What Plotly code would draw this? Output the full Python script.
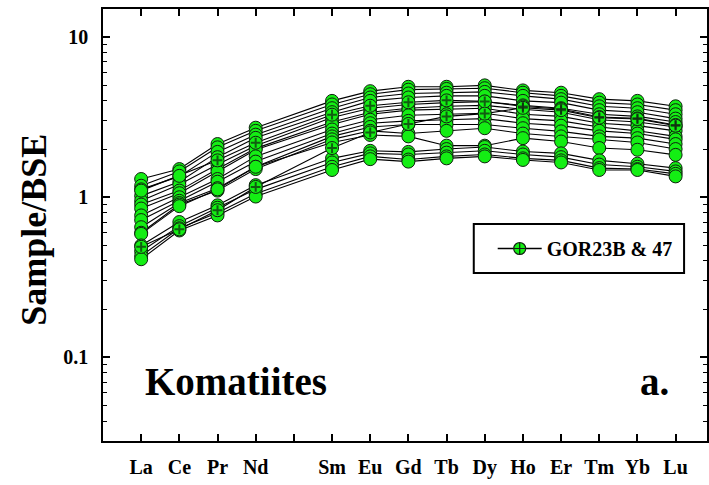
import plotly.graph_objects as go
import math

# ---------------- data ----------------
tick_labels = ["La", "Ce", "Pr", "Nd", "", "Sm", "Eu", "Gd", "Tb", "Dy", "Ho", "Er", "Tm", "Yb", "Lu"]
elements = ["La", "Ce", "Pr", "Nd", "Sm", "Eu", "Gd", "Tb", "Dy", "Ho", "Er", "Tm", "Yb", "Lu"]

# Komatiite samples normalised to BSE (La ... Lu)
sample_01 = [1.30, 1.50, 2.15, 2.72, 4.00, 4.60, 4.90, 4.90, 5.00, 4.65, 4.50, 4.10, 4.00, 3.70]
sample_02 = [1.18, 1.45, 2.05, 2.60, 3.80, 4.40, 4.70, 4.75, 4.80, 4.50, 4.30, 3.90, 3.80, 3.50]
sample_03 = [1.12, 1.35, 1.92, 2.46, 3.60, 4.20, 4.45, 4.50, 4.55, 4.30, 4.10, 3.70, 3.60, 3.30]
sample_04 = [1.02, 1.25, 1.78, 2.35, 3.40, 4.00, 4.20, 4.30, 4.30, 4.00, 3.90, 3.50, 3.40, 3.10]
sample_05 = [0.95, 1.20, 1.60, 2.10, 3.15, 3.60, 3.80, 3.90, 3.95, 3.75, 3.60, 3.30, 3.20, 2.95]
sample_06 = [0.90, 1.10, 1.50, 2.02, 2.95, 3.40, 3.60, 3.70, 3.75, 3.55, 3.40, 3.05, 2.95, 2.75]
sample_07 = [0.85, 1.06, 1.45, 1.98, 2.85, 3.30, 3.50, 3.55, 3.60, 3.30, 3.20, 2.90, 2.80, 2.60]
sample_08 = [0.77, 1.00, 1.30, 1.80, 2.65, 3.05, 3.25, 3.30, 3.35, 3.10, 3.00, 2.75, 2.60, 2.40]
sample_09 = [0.72, 0.95, 1.25, 1.67, 2.50, 2.90, 3.00, 3.05, 3.10, 2.90, 2.80, 2.60, 2.50, 2.30]
sample_10 = [0.65, 0.92, 1.14, 1.55, 2.40, 2.75, 2.85, 2.85, 2.85, 2.70, 2.58, 2.40, 2.34, 2.15]
sample_11 = [0.60, 0.90, 1.10, 1.50, 2.30, 2.60, 2.50, 2.60, 2.70, 2.50, 2.40, 2.30, 2.20, 2.00]
sample_12 = [0.59, 0.88, 1.12, 1.55, 2.20, 2.45, 2.40, 2.10, 2.10, 2.34, 2.23, 2.03, 1.98, 1.84]
sample_13 = [0.50, 0.70, 0.89, 1.19, 1.75, 1.95, 1.92, 2.00, 2.06, 1.93, 1.88, 1.70, 1.62, 1.52]
sample_14 = [0.46, 0.66, 0.86, 1.12, 1.65, 1.88, 1.85, 1.90, 1.95, 1.85, 1.78, 1.60, 1.55, 1.45]
sample_15 = [0.43, 0.64, 0.80, 1.05, 1.55, 1.80, 1.72, 1.80, 1.85, 1.75, 1.70, 1.52, 1.50, 1.40]
sample_16 = [0.41, 0.62, 0.77, 1.01, 1.48, 1.73, 1.67, 1.75, 1.80, 1.71, 1.65, 1.48, 1.48, 1.35]

# GOR23B & 47
gor23b = [1.10, 1.36, 1.70, 2.19, 3.28, 3.73, 3.92, 4.03, 3.97, 3.69, 3.56, 3.17, 3.11, 2.83]
gor47 = [0.49, 0.63, 0.83, 1.16, 2.03, 2.54, 2.87, 3.20, 3.33, 3.62, 3.50, 3.14, 3.08, 2.80]
# whether the cross symbol of a GOR point is visible (hidden where covered by other samples)
gor23b_cross_visible = [0, 0, 1, 1, 1, 1, 1, 1, 1, 1, 1, 1, 1, 1]
gor47_cross_visible = [1, 1, 1, 1, 1, 1, 1, 1, 1, 1, 1, 1, 1, 1]

komatiite_samples = [sample_01, sample_02, sample_03, sample_04, sample_05, sample_06,
                     sample_07, sample_08, sample_09, sample_10, sample_11, sample_12,
                     sample_13, sample_14, sample_15, sample_16]
gor_samples = [gor23b, gor47]
gor_cross_flags = [gor23b_cross_visible, gor47_cross_visible]

y_tickvals = [0.1, 1, 10]
y_ticktext = ["0.1", "1", "10"]
legend_name = "GOR23B & 47"

# ---------------- styling ----------------
GREEN = "#14ee14"
EDGE = "#102010"
FONT = "Liberation Serif, Times New Roman, serif"

x_pos = [tick_labels.index(e) + 1 for e in elements]
x_ticks = list(range(1, len(tick_labels) + 1))

fig = go.Figure()

all_samples = komatiite_samples + gor_samples
# lines first
for s in all_samples:
    fig.add_trace(go.Scatter(x=x_pos, y=s, mode="lines",
                             line=dict(color="black", width=1.1),
                             showlegend=False, hoverinfo="skip"))
# markers on top
for s in all_samples:
    fig.add_trace(go.Scatter(x=x_pos, y=s, mode="markers",
                             marker=dict(symbol="circle", size=13, color=GREEN,
                                         line=dict(color=EDGE, width=1)),
                             showlegend=False))
# crosses for GOR samples
for s, flags in zip(gor_samples, gor_cross_flags):
    fig.add_trace(go.Scatter(x=x_pos, y=s, mode="markers",
                             marker=dict(symbol="cross-thin", size=[7 * f for f in flags],
                                         color=EDGE, line=dict(color=EDGE, width=2)),
                             showlegend=False, hoverinfo="skip"))
# legend entry
fig.add_trace(go.Scatter(x=[None], y=[None], mode="lines+markers", name=legend_name,
                         line=dict(color="black", width=1.5),
                         marker=dict(symbol="circle-cross", size=12, color=GREEN,
                                     line=dict(color=EDGE, width=1.2))))

# minor ticks
minor_vals = []
for dec in [0.01, 0.1, 1]:
    for k in range(2, 10):
        v = k * dec
        if 0.03 <= v <= 15:
            minor_vals.append(round(v, 4))

L, R, T, B = 103, 0, 9, 44
W, H = 709, 485
plot_w = W - L - R
plot_h = H - T - B
unit = 38.3
x_max = plot_w / unit


def px_x(p):
    return (p - L) / plot_w


def px_y(p):
    return (H - B - p) / plot_h


fig.update_layout(
    width=W, height=H,
    margin=dict(l=L, r=R, t=T, b=B, pad=0),
    paper_bgcolor="white", plot_bgcolor="white",
    font=dict(family=FONT, color="black"),
    xaxis=dict(range=[0, x_max], tickmode="array", tickvals=x_ticks, ticktext=tick_labels,
               ticks="inside", ticklen=7, tickwidth=1.5, tickcolor="black",
               showline=True, linecolor="black", linewidth=1.5, mirror="ticks",
               showgrid=False, zeroline=False,
               tickfont=dict(family=FONT, size=20, weight="bold", color="black"),
               ticklabelstandoff=7),
    yaxis=dict(type="log", range=[math.log10(0.03), math.log10(15)],
               tickmode="array", tickvals=y_tickvals, ticktext=y_ticktext,
               ticks="inside", ticklen=7, tickwidth=1.5, tickcolor="black",
               minor=dict(tickmode="array", tickvals=minor_vals, ticks="inside",
                          ticklen=4, tickwidth=1.2, tickcolor="black", showgrid=False),
               showline=True, linecolor="black", linewidth=1.5, mirror="ticks",
               showgrid=False, zeroline=False,
               tickfont=dict(family=FONT, size=20, weight="bold", color="black"),
               ticklabelstandoff=9),
    legend=dict(x=px_x(494), y=px_y(248.5), xanchor="left", yanchor="middle",
                bgcolor="rgba(0,0,0,0)", borderwidth=0, itemwidth=44,
                font=dict(family=FONT, size=20, weight="bold", color="black")),
    shapes=[dict(type="rect", xref="paper", yref="paper",
                 x0=px_x(475), x1=px_x(686), y0=px_y(273), y1=px_y(224),
                 line=dict(color="black", width=2), fillcolor="rgba(0,0,0,0)",
                 layer="above")],
    annotations=[
        dict(text="Sample/BSE", xref="paper", yref="paper", x=px_x(33),
             y=px_y(229.5), textangle=-90, showarrow=False,
             xanchor="center", yanchor="middle",
             font=dict(family=FONT, size=36, weight="bold", color="black")),
        dict(text="Komatiites", xref="x", yref="paper", x=(236.5 - L) / unit,
             y=px_y(381), showarrow=False, xanchor="center", yanchor="middle",
             font=dict(family=FONT, size=39, weight="bold", color="black")),
        dict(text="a.", xref="x", yref="paper", x=(656 - L) / unit,
             y=px_y(381), showarrow=False, xanchor="center", yanchor="middle",
             font=dict(family=FONT, size=39, weight="bold", color="black")),
    ],
)

fig.write_html("out.html", config={"displayModeBar": False},
               post_script="document.body.style.margin='0px';document.body.style.overflow='hidden';")
